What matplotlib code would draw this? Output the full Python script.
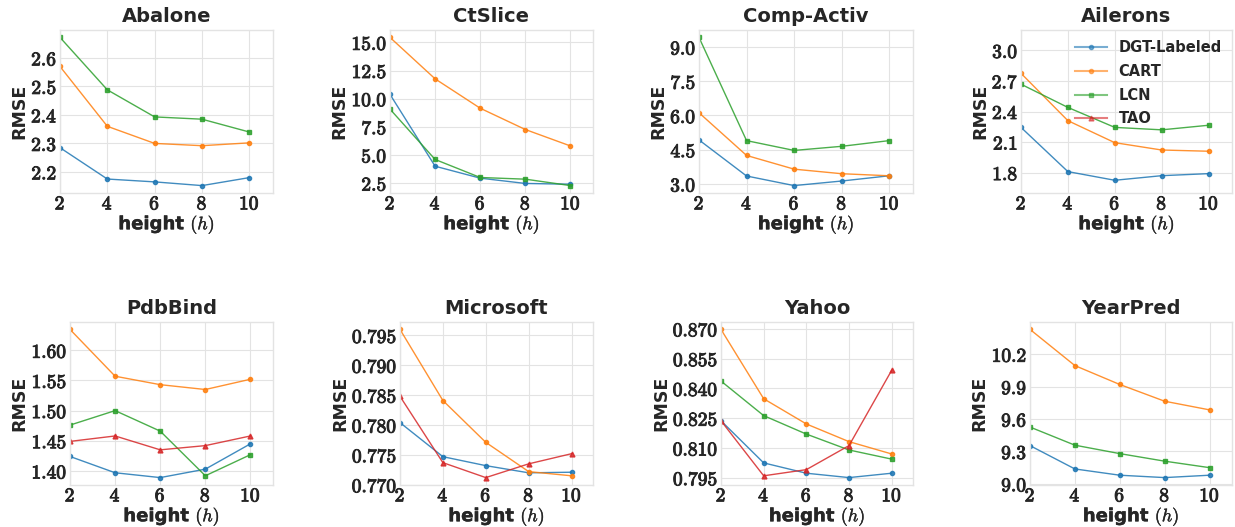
import matplotlib
matplotlib.use("Agg")
import matplotlib.pyplot as plt
import matplotlib.patheffects as pe
from matplotlib.ticker import MultipleLocator, FuncFormatter

# =========================
# DATA
# =========================
heights = [2, 4, 6, 8, 10]
dataset_names = ["Abalone", "CtSlice", "Comp-Activ", "Ailerons",
                 "PdbBind", "Microsoft", "Yahoo", "YearPred"]

dgt_labeled = [
    [2.285, 2.175, 2.165, 2.152, 2.180],
    [10.38, 4.00, 2.94, 2.47, 2.40],
    [4.93, 3.35, 2.93, 3.13, 3.36],
    [2.244, 1.810, 1.725, 1.770, 1.790],
    [1.424, 1.397, 1.389, 1.403, 1.445],
    [0.7804, 0.7747, 0.7732, 0.7720, 0.7721],
    [0.8237, 0.8025, 0.7973, 0.7951, 0.7973],
    [9.354, 9.138, 9.080, 9.058, 9.080],
]
cart = [
    [2.570, 2.360, 2.300, 2.292, 2.302],
    [15.44, 11.76, 9.15, 7.26, 5.80],
    [6.12, 4.25, 3.65, 3.45, 3.36],
    [2.775, 2.310, 2.094, 2.022, 2.010],
    [1.6346, 1.557, 1.543, 1.535, 1.552],
    [0.7960, 0.7841, 0.7771, 0.7722, 0.7715],
    [0.8697, 0.8348, 0.8221, 0.8132, 0.8070],
    [10.43, 10.095, 9.920, 9.765, 9.685],
]
lcn = [
    [2.672, 2.488, 2.393, 2.385, 2.340],
    [9.07, 4.60, 3.00, 2.85, 2.28],
    [9.42, 4.90, 4.47, 4.65, 4.90],
    [2.668, 2.440, 2.244, 2.220, 2.265],
    [1.476, 1.500, 1.466, 1.392, 1.427],
    None,
    [0.8437, 0.8263, 0.8170, 0.8090, 0.8044],
    [9.526, 9.358, 9.280, 9.210, 9.150],
]
tao = [
    None,
    None,
    None,
    None,
    [1.449, 1.458, 1.435, 1.442, 1.458],
    [0.7848, 0.7737, 0.7712, 0.7735, 0.7752],
    [0.8237, 0.7960, 0.7991, 0.8112, 0.8491],
    None,
]

# tick step and decimals for each panel
y_steps = [0.1, 2.5, 1.5, 0.3, 0.05, 0.005, 0.015, 0.3]
y_decimals = [1, 1, 1, 1, 2, 3, 3, 1]

# =========================
# STYLE
# =========================
plt.rcParams["font.family"] = ["DejaVu Sans"]
plt.rcParams["mathtext.fontset"] = "cm"
plt.rcParams["axes.edgecolor"] = "#e3e3e3"
plt.rcParams["grid.color"] = "#e3e3e3"
plt.rcParams["text.color"] = "#262626"
plt.rcParams["axes.labelcolor"] = "#262626"
plt.rcParams["xtick.color"] = "#262626"
plt.rcParams["ytick.color"] = "#262626"

series = [
    ("DGT-Labeled", dgt_labeled, "tab:blue", "o", 3.0),
    ("CART", cart, "tab:orange", "o", 3.0),
    ("LCN", lcn, "tab:green", "s", 3.0),
    ("TAO", tao, "tab:red", "^", 3.5),
]

# axes boxes in pixels: (left, right) per panel, rows share top/bottom
W, H = 1235, 527
col_px = [(60, 273), (390, 593), (699, 913), (1021, 1232),
          (70, 273), (400, 593), (721, 913), (1030, 1232)]
row_px = [(30, 193), (322, 485)]

thick = [pe.withStroke(linewidth=0.7, foreground="#262626")]


def bold_fmt(dec):
    return FuncFormatter(lambda v, pos: r"$\mathbf{%s}$" % f"{v:.{dec}f}")


fig = plt.figure(figsize=(W / 100, H / 100), dpi=100)

for i, name in enumerate(dataset_names):
    l, r = col_px[i]
    t, b = row_px[i // 4]
    ax = fig.add_axes([l / W, 1 - b / H, (r - l) / W, (b - t) / H])
    ax.grid(True, linewidth=0.8)
    ax.set_axisbelow(True)
    for sp in ax.spines.values():
        sp.set_linewidth(1.0)

    for label, vals, color, marker, ms in series:
        if vals[i] is None:
            continue
        ax.plot(heights, vals[i], color=color, marker=marker, markersize=ms,
                linewidth=1.0, alpha=0.85, label=label)

    ax.set_xlim(2, 11)
    ax.set_xticks(heights)
    ax.xaxis.set_major_formatter(bold_fmt(0))
    ax.yaxis.set_major_locator(MultipleLocator(y_steps[i]))
    ax.yaxis.set_major_formatter(bold_fmt(y_decimals[i]))
    if name == "Ailerons":
        ax.set_ylim(1.6, 3.2)
    ax.tick_params(axis="y", length=0, labelsize=14, pad=2)
    ax.tick_params(axis="x", length=0, labelsize=14, pad=1)
    for tl in ax.get_xticklabels() + ax.get_yticklabels():
        tl.set_path_effects(thick)

    ax.set_title(name, fontsize=14, fontweight="bold", pad=6)
    ax.set_ylabel("RMSE", fontsize=12.5, fontweight="bold", labelpad=2)
    xl = ax.set_xlabel(r"height $(h)$", fontsize=13, fontweight="bold", labelpad=0)
    xl.set_path_effects([pe.withStroke(linewidth=0.3, foreground="#262626")])

    if name == "Ailerons":
        handles, labels = [], []
        for label, vals, color, marker, ms in series:
            h, = ax.plot([], [], color=color, marker=marker, markersize=ms,
                         linewidth=1.5, alpha=0.6, label=label)
            handles.append(h)
            labels.append(label)
        leg = ax.legend(handles, labels, loc="upper right", frameon=False,
                        prop={"size": 10.5, "weight": "bold"},
                        handlelength=2.2, borderaxespad=0.3, labelspacing=0.6)

fig.savefig("out.png", dpi=100)
